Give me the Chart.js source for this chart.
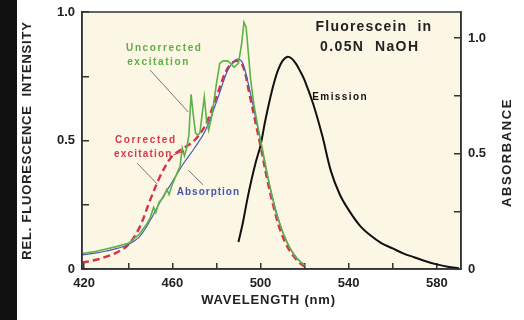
<!DOCTYPE html>
<html>
<head>
<meta charset="utf-8">
<script src="https://cdn.jsdelivr.net/npm/chart.js@4/dist/chart.umd.min.js"></script>
<style>
  html, body { margin: 0; padding: 0; background: #fff; }
  canvas { display: block; }
</style>
</head>
<body>
<canvas id="spectra" width="524" height="320"></canvas>
<script>
// uncorrected excitation (green, spiky lamp lines)
const uncWl  = [419, 425, 430, 435, 440, 445, 448, 450, 451.5, 452.5, 454, 456, 457.5, 458.5, 460, 462, 463.5, 464.5, 465.5, 466.5, 467.5, 468.5, 469.5, 470.5, 471.5, 472.5, 473.5, 474.5, 475.5, 476.5, 478, 480, 481.5, 483, 485, 486.5, 488, 490, 491.5, 492.5, 493.5, 494.5, 495.5, 497, 499, 501, 504, 507, 510, 513, 516, 519, 520];
const uncVal = [0.06, 0.068, 0.078, 0.088, 0.1, 0.135, 0.17, 0.2, 0.24, 0.22, 0.26, 0.28, 0.31, 0.29, 0.33, 0.37, 0.4, 0.47, 0.44, 0.47, 0.52, 0.68, 0.6, 0.53, 0.52, 0.53, 0.6, 0.67, 0.58, 0.54, 0.6, 0.72, 0.8, 0.81, 0.81, 0.8, 0.785, 0.8, 0.88, 0.96, 0.94, 0.84, 0.74, 0.64, 0.545, 0.46, 0.33, 0.22, 0.145, 0.085, 0.045, 0.02, 0.015];

// absorption (blue), in absorbance units
const absWl  = [419, 425, 430, 435, 440, 445, 450, 455, 460, 465, 470, 475, 480, 485, 488, 490, 492, 495, 498, 500, 503, 506, 509, 512, 515, 518, 520];
const absVal = [0.061, 0.069, 0.078, 0.089, 0.106, 0.139, 0.211, 0.3, 0.378, 0.456, 0.523, 0.6, 0.723, 0.857, 0.9, 0.909, 0.89, 0.78, 0.645, 0.556, 0.41, 0.29, 0.19, 0.117, 0.067, 0.033, 0.02];

// corrected excitation (red dashed)
const corWl  = [419, 425, 430, 435, 440, 445, 450, 455, 460, 465, 470, 475, 480, 485, 489, 492, 495, 498, 500, 503, 506, 509, 512, 515, 518, 520];
const corVal = [0.025, 0.035, 0.048, 0.065, 0.095, 0.16, 0.27, 0.37, 0.44, 0.47, 0.5, 0.56, 0.67, 0.78, 0.81, 0.79, 0.68, 0.56, 0.48, 0.35, 0.24, 0.15, 0.09, 0.05, 0.022, 0.01];

// emission (black)
const emWl  = [490, 492, 494, 496, 498, 500, 502, 504, 506, 508, 510, 512, 514, 516, 518, 520, 524, 528, 532, 536, 540, 545, 550, 555, 560, 565, 570, 575, 580, 585, 590];
const emVal = [0.105, 0.18, 0.27, 0.35, 0.42, 0.48, 0.57, 0.65, 0.72, 0.775, 0.81, 0.825, 0.82, 0.8, 0.77, 0.735, 0.64, 0.52, 0.38, 0.29, 0.23, 0.17, 0.13, 0.1, 0.08, 0.06, 0.045, 0.03, 0.018, 0.009, 0.003];

// axis ticks (all get a mark, only some get a label)
const xTicks = [420, 440, 460, 480, 500, 520, 540, 560, 580];
const xLabels = [420, 460, 500, 540, 580];
const yTicks = [0, 0.25, 0.5, 0.75, 1.0];
const yLabels = [0, 0.5, 1.0];
const abTicks = [0, 0.25, 0.5, 0.75, 1.0];
const abLabels = [0, 0.5, 1.0];

const pts = (xs, ys) => xs.map((x, i) => ({ x: x, y: ys[i] }));
const fmt = v => (v === 0 ? '0' : v.toFixed(1));
const ink = '#222';
const tickFont = { family: 'Liberation Sans', size: 13, weight: 'bold' };

// free-floating labels, positioned in data units
const notes = [
  { text: 'Uncorrected', x: 439, y: 0.86, color: '#5fae45', size: 10, sp: 1.6 },
  { text: 'excitation', x: 439.5, y: 0.805, color: '#5fae45', size: 10, sp: 1.6 },
  { text: 'Corrected', x: 434, y: 0.5, color: '#d9364a', size: 10, sp: 1.6 },
  { text: 'excitation', x: 433.5, y: 0.448, color: '#d9364a', size: 10, sp: 1.2 },
  { text: 'Absorption', x: 462, y: 0.3, color: '#4656a8', size: 10, sp: 1.0 },
  { text: 'Emission', x: 523.5, y: 0.67, color: '#111', size: 10, sp: 1.4 },
  { text: 'Fluorescein  in', x: 525, y: 0.94, color: '#222', size: 14, sp: 1.2 },
  { text: '0.05N  NaOH', x: 527, y: 0.862, color: '#222', size: 14, sp: 1.4 }
];
const pointers = [
  { from: [449.9, 0.774], to: [467.2, 0.611] },
  { from: [444, 0.412], to: [453.1, 0.331] },
  { from: [460.4, 0.444], to: [465.4, 0.459], color: '#d9364a' },
  { from: [467.2, 0.385], to: [474, 0.327] }
];

function drawTitle(ctx, text, x, y, angle, spacing) {
  ctx.save();
  ctx.translate(x, y);
  ctx.rotate(angle);
  ctx.font = 'bold 13px "Liberation Sans"';
  ctx.letterSpacing = spacing + 'px';
  ctx.fillStyle = ink;
  ctx.textAlign = 'center';
  ctx.textBaseline = 'middle';
  ctx.fillText(text, 0, 0);
  ctx.restore();
}

const framePlugin = {
  id: 'frame',
  beforeDraw(chart) {
    const { ctx, chartArea: a } = chart;
    ctx.save();
    // dark scan edge down the left side
    ctx.fillStyle = '#111';
    ctx.fillRect(0, 0, 17, chart.height);
    ctx.fillStyle = '#fcf6e4';
    ctx.fillRect(a.left, a.top, a.right - a.left, a.bottom - a.top);
    ctx.restore();
  },
  afterDraw(chart) {
    const { ctx, chartArea: a, scales } = chart;
    ctx.save();
    ctx.strokeStyle = '#333';
    ctx.lineWidth = 1.5;
    ctx.strokeRect(a.left, a.top, a.right - a.left, a.bottom - a.top);
    ctx.lineWidth = 1;
    pointers.forEach(p => {
      ctx.strokeStyle = p.color || '#777';
      ctx.beginPath();
      ctx.moveTo(scales.x.getPixelForValue(p.from[0]), scales.y.getPixelForValue(p.from[1]));
      ctx.lineTo(scales.x.getPixelForValue(p.to[0]), scales.y.getPixelForValue(p.to[1]));
      ctx.stroke();
    });
    ctx.textBaseline = 'middle';
    notes.forEach(n => {
      ctx.font = 'bold ' + n.size + 'px "Liberation Sans"';
      ctx.letterSpacing = n.sp + 'px';
      ctx.fillStyle = n.color;
      ctx.fillText(n.text, scales.x.getPixelForValue(n.x), scales.y.getPixelForValue(n.y));
    });
    ctx.restore();

    const midY = (a.top + a.bottom) / 2;
    drawTitle(ctx, 'REL. FLUORESCENCE  INTENSITY', 27, midY, -Math.PI / 2, 0.8);
    drawTitle(ctx, 'ABSORBANCE', 507, midY + 12, -Math.PI / 2, 1.6);
    drawTitle(ctx, 'WAVELENGTH (nm)', (a.left + a.right) / 2 - 3, 300, 0, 0.8);
  }
};

function fixedTicks(values) {
  return scale => { scale.ticks = values.map(v => ({ value: v })); };
}

new Chart(document.getElementById('spectra'), {
  type: 'line',
  data: {
    datasets: [
      {
        label: 'Uncorrected excitation',
        data: pts(uncWl, uncVal),
        borderColor: '#5fb047',
        borderWidth: 1.6,
        tension: 0,
        yAxisID: 'y'
      },
      {
        label: 'Absorption',
        data: pts(absWl, absVal),
        borderColor: '#4a5cb4',
        borderWidth: 1.2,
        tension: 0.35,
        yAxisID: 'ab'
      },
      {
        label: 'Corrected excitation',
        data: pts(corWl, corVal),
        borderColor: '#d93048',
        borderWidth: 2.4,
        borderDash: [7, 4],
        tension: 0.35,
        yAxisID: 'y'
      },
      {
        label: 'Emission',
        data: pts(emWl, emVal),
        borderColor: '#111',
        borderWidth: 2,
        tension: 0.35,
        yAxisID: 'y'
      }
    ]
  },
  options: {
    responsive: false,
    animation: false,
    devicePixelRatio: 1,
    layout: { padding: { top: 12 } },
    elements: { point: { radius: 0 } },
    plugins: { legend: { display: false }, tooltip: { enabled: false } },
    scales: {
      x: {
        type: 'linear',
        min: 419,
        max: 591,
        afterBuildTicks: fixedTicks(xTicks),
        afterFit: s => { s.height = 51; s.paddingLeft = 0; s.paddingRight = 0; },
        grid: { drawOnChartArea: false, tickLength: -6, color: '#333', lineWidth: 1.5 },
        border: { color: '#333', width: 1.5 },
        ticks: {
          color: ink, font: tickFont, padding: 13, maxRotation: 0, autoSkip: false,
          callback: v => (xLabels.includes(v) ? String(v) : '')
        }
      },
      y: {
        position: 'left',
        min: 0,
        max: 1,
        afterBuildTicks: fixedTicks(yTicks),
        afterFit: s => { s.width = 82; s.paddingTop = 0; s.paddingBottom = 0; },
        grid: { drawOnChartArea: false, tickLength: -7, color: '#333', lineWidth: 1.5 },
        border: { color: '#333', width: 1.5 },
        ticks: {
          color: ink, font: tickFont, padding: 14,
          callback: v => (yLabels.includes(v) ? fmt(v) : '')
        }
      },
      ab: {
        position: 'right',
        min: 0,
        max: 1.113,
        afterBuildTicks: fixedTicks(abTicks),
        afterFit: s => { s.width = 63; s.paddingTop = 0; s.paddingBottom = 0; },
        grid: { drawOnChartArea: false, tickLength: -7, color: '#333', lineWidth: 1.5 },
        border: { color: '#333', width: 1.5 },
        ticks: {
          color: ink, font: tickFont, padding: 14,
          callback: v => (abLabels.includes(v) ? fmt(v) : '')
        }
      }
    }
  },
  plugins: [framePlugin]
});
</script>
</body>
</html>
